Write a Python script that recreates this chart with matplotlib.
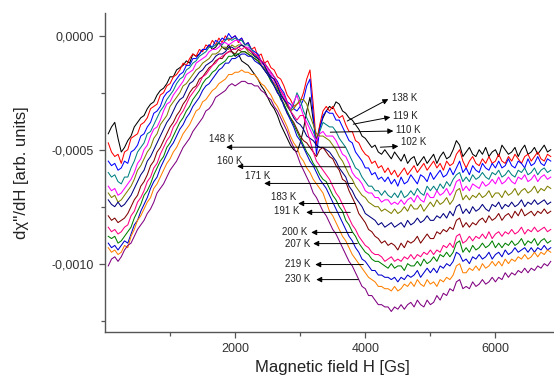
import numpy as np
import matplotlib
matplotlib.use("Agg")
import matplotlib.pyplot as plt
from matplotlib.ticker import FuncFormatter, FixedLocator

plt.rcParams["font.family"] = ["Liberation Sans", "DejaVu Sans"]

# ── Data: derivative signal in units of 1e-5, read every 50 Gs ───────────
field = np.arange(50, 6900, 50)  # Gs, 137 samples

temps = ["102 K", "110 K", "119 K", "138 K", "148 K", "160 K", "171 K",
         "183 K", "191 K", "200 K", "207 K", "219 K", "230 K"]

colors = ["#000000", "#ff0000", "#0000ff", "#008080", "#ff00ff", "#808000",
          "#000080", "#800000", "#ff0080", "#008000", "#0000cd", "#ff8000",
          "#800080"]

s102 = [-43, -40, -38, -45, -51, -49, -46, -44, -40, -38,
        -36, -35, -32, -30, -29, -26, -24, -23, -21, -18,
        -18, -15, -14, -13, -11, -12, -8, -9, -8, -6,
        -6, -4, -6, -5, -3, -5, -6, -4, -7, -9,
        -8, -11, -12, -13, -15, -17, -19, -22, -24, -27,
        -30, -32, -35, -39, -42, -45, -48, -50, -51, -47,
        -41, -33, -27, -37, -46, -40, -36, -33, -31, -32,
        -29, -30, -33, -34, -36, -37, -39, -41, -44, -45,
        -47, -49, -48, -51, -52, -50, -52, -54, -51, -53,
        -55, -52, -56, -54, -53, -57, -55, -53, -56, -54,
        -52, -56, -53, -51, -54, -53, -50, -46, -48, -53,
        -51, -49, -52, -53, -50, -52, -49, -53, -51, -50,
        -53, -48, -50, -52, -51, -49, -53, -50, -48, -52,
        -51, -49, -52, -50, -48, -51, -50]
s110 = [-47, -51, -53, -52, -56, -51, -50, -45, -44, -43,
        -39, -38, -36, -32, -31, -30, -26, -25, -22, -21,
        -18, -17, -15, -12, -13, -10, -8, -9, -6, -7,
        -4, -5, -2, -4, -1, -3, 0, -2, -1, 0,
        -3, -1, -4, -3, -6, -5, -9, -8, -12, -11,
        -14, -15, -18, -19, -22, -26, -28, -31, -30, -29,
        -25, -19, -15, -30, -48, -39, -33, -31, -33, -31,
        -34, -36, -35, -39, -42, -42, -46, -47, -50, -52,
        -53, -56, -55, -58, -57, -60, -58, -61, -59, -62,
        -60, -58, -61, -59, -57, -60, -58, -56, -59, -57,
        -55, -58, -56, -59, -55, -57, -56, -52, -50, -55,
        -58, -55, -53, -56, -57, -54, -56, -53, -56, -55,
        -52, -55, -56, -53, -55, -52, -54, -56, -53, -52,
        -55, -53, -51, -54, -55, -52, -53]
s119 = [-55, -57, -56, -59, -58, -55, -56, -51, -50, -48,
        -44, -43, -40, -38, -34, -33, -31, -27, -25, -24,
        -21, -19, -17, -16, -13, -13, -10, -10, -8, -6,
        -6, -4, -5, -2, -3, -1, -2, 1, -1, 0,
        -2, -1, -4, -3, -6, -7, -8, -11, -12, -14,
        -16, -18, -20, -23, -25, -29, -30, -32, -33, -31,
        -28, -22, -19, -35, -52, -41, -35, -33, -34, -34,
        -37, -37, -40, -43, -46, -47, -51, -53, -55, -58,
        -58, -61, -60, -63, -62, -64, -62, -65, -63, -66,
        -62, -65, -64, -61, -63, -65, -61, -62, -64, -60,
        -63, -61, -59, -62, -61, -58, -61, -58, -55, -60,
        -58, -61, -57, -59, -60, -56, -58, -59, -56, -58,
        -55, -58, -57, -54, -57, -58, -55, -56, -58, -54,
        -57, -56, -53, -56, -57, -54, -55]
s138 = [-60, -62, -61, -64, -65, -62, -62, -58, -55, -51,
        -49, -47, -43, -42, -39, -36, -33, -31, -28, -26,
        -24, -21, -19, -18, -15, -14, -12, -11, -9, -8,
        -7, -5, -5, -4, -3, -4, -2, -1, -2, -1,
        -2, -2, -4, -4, -6, -8, -10, -11, -13, -16,
        -18, -19, -22, -25, -28, -31, -33, -30, -25, -28,
        -33, -36, -39, -42, -46, -42, -38, -39, -40, -40,
        -42, -45, -47, -49, -52, -55, -58, -59, -62, -64,
        -66, -66, -68, -68, -70, -68, -70, -71, -69, -71,
        -68, -71, -70, -68, -70, -67, -69, -70, -66, -68,
        -66, -68, -65, -67, -64, -66, -63, -61, -60, -64,
        -62, -64, -61, -63, -62, -60, -62, -63, -60, -61,
        -59, -62, -61, -59, -61, -62, -59, -60, -58, -61,
        -60, -58, -61, -59, -58, -60, -59]
s148 = [-66, -68, -67, -70, -69, -67, -65, -63, -60, -56,
        -54, -50, -48, -44, -41, -40, -37, -33, -30, -29,
        -26, -24, -22, -20, -17, -16, -15, -12, -11, -10,
        -9, -7, -6, -6, -5, -3, -3, -4, -3, -2,
        -2, -4, -5, -5, -7, -8, -9, -12, -13, -15,
        -17, -20, -23, -24, -27, -30, -32, -29, -26, -31,
        -35, -38, -41, -44, -46, -43, -42, -44, -44, -44,
        -46, -49, -52, -53, -56, -60, -62, -63, -65, -68,
        -69, -69, -71, -71, -73, -72, -72, -74, -73, -74,
        -72, -74, -72, -71, -73, -70, -72, -73, -69, -71,
        -71, -68, -70, -69, -67, -70, -68, -64, -63, -68,
        -66, -68, -65, -66, -67, -64, -66, -65, -63, -65,
        -62, -65, -64, -62, -64, -65, -62, -63, -61, -64,
        -63, -61, -64, -62, -61, -63, -62]
s160 = [-69, -71, -70, -73, -72, -70, -68, -66, -63, -59,
        -57, -54, -51, -49, -45, -43, -39, -37, -35, -31,
        -29, -27, -25, -22, -21, -19, -17, -15, -14, -12,
        -11, -10, -8, -8, -7, -5, -5, -6, -4, -5,
        -4, -4, -5, -7, -8, -9, -10, -13, -14, -16,
        -19, -21, -23, -26, -28, -31, -33, -32, -30, -28,
        -28, -30, -35, -39, -43, -44, -44, -45, -46, -48,
        -50, -53, -55, -58, -61, -63, -66, -68, -70, -71,
        -73, -74, -75, -75, -77, -76, -77, -78, -76, -78,
        -77, -75, -77, -74, -76, -76, -74, -77, -75, -73,
        -75, -72, -74, -73, -71, -74, -72, -68, -67, -72,
        -70, -72, -70, -71, -69, -71, -70, -68, -71, -69,
        -69, -71, -68, -70, -69, -67, -70, -68, -67, -69,
        -68, -66, -69, -67, -68, -66, -67]
s171 = [-72, -74, -75, -73, -75, -74, -72, -70, -67, -64,
        -61, -59, -55, -53, -50, -47, -44, -41, -38, -36,
        -33, -30, -28, -27, -24, -21, -20, -18, -16, -15,
        -13, -12, -11, -9, -8, -8, -7, -5, -5, -6,
        -5, -4, -5, -6, -7, -9, -10, -11, -13, -16,
        -18, -19, -22, -26, -28, -30, -33, -36, -38, -39,
        -41, -44, -45, -46, -48, -49, -49, -50, -51, -53,
        -55, -58, -60, -62, -66, -68, -71, -73, -75, -78,
        -79, -80, -81, -83, -82, -84, -83, -82, -84, -83,
        -82, -84, -81, -83, -82, -80, -82, -81, -79, -81,
        -81, -79, -80, -78, -80, -77, -79, -75, -74, -78,
        -76, -78, -75, -77, -76, -74, -76, -77, -74, -75,
        -73, -76, -74, -75, -73, -75, -74, -72, -75, -73,
        -74, -72, -74, -73, -72, -74, -73]
s183 = [-79, -81, -80, -82, -81, -80, -78, -75, -72, -70,
        -66, -64, -61, -57, -55, -51, -49, -46, -43, -40,
        -38, -35, -33, -30, -28, -25, -23, -22, -19, -18,
        -16, -14, -13, -11, -10, -10, -8, -7, -7, -8,
        -6, -7, -7, -8, -9, -10, -11, -13, -15, -17,
        -19, -22, -25, -27, -30, -34, -36, -38, -41, -44,
        -46, -47, -49, -51, -53, -50, -49, -51, -53, -54,
        -57, -59, -63, -64, -68, -71, -74, -78, -80, -82,
        -85, -86, -88, -89, -91, -90, -92, -91, -92, -94,
        -91, -93, -90, -91, -90, -88, -91, -89, -87, -89,
        -89, -86, -87, -85, -86, -84, -85, -81, -80, -84,
        -82, -84, -82, -83, -81, -80, -82, -79, -81, -80,
        -78, -81, -79, -78, -80, -77, -79, -76, -79, -78,
        -77, -79, -77, -78, -76, -78, -77]
s191 = [-84, -86, -85, -87, -86, -84, -83, -79, -77, -73,
        -71, -68, -64, -62, -58, -56, -52, -49, -46, -44,
        -40, -38, -35, -33, -30, -27, -25, -23, -21, -18,
        -17, -15, -13, -12, -10, -9, -8, -7, -6, -6,
        -5, -6, -5, -6, -7, -8, -9, -11, -12, -14,
        -16, -18, -21, -24, -26, -29, -33, -35, -37, -35,
        -35, -41, -46, -51, -55, -57, -59, -61, -63, -66,
        -69, -71, -74, -77, -80, -83, -85, -88, -90, -92,
        -93, -95, -96, -96, -97, -99, -98, -97, -99, -98,
        -99, -97, -98, -96, -98, -96, -97, -95, -96, -94,
        -96, -94, -95, -92, -93, -91, -93, -88, -87, -91,
        -90, -88, -90, -88, -89, -87, -89, -86, -89, -87,
        -86, -88, -86, -87, -85, -87, -86, -84, -87, -85,
        -86, -84, -86, -85, -84, -86, -85]
s200 = [-88, -89, -88, -91, -90, -88, -86, -84, -80, -77,
        -74, -70, -68, -65, -61, -58, -55, -53, -49, -47,
        -44, -41, -38, -36, -33, -31, -28, -26, -24, -21,
        -19, -18, -16, -15, -13, -12, -11, -9, -9, -8,
        -8, -7, -7, -8, -9, -10, -11, -13, -15, -17,
        -20, -22, -24, -28, -30, -33, -36, -39, -42, -45,
        -48, -51, -53, -56, -58, -61, -63, -64, -67, -70,
        -72, -75, -77, -81, -83, -86, -88, -91, -93, -95,
        -96, -98, -99, -99, -100, -101, -102, -100, -102, -101,
        -101, -103, -100, -101, -101, -99, -101, -98, -100, -99,
        -97, -99, -96, -97, -95, -97, -95, -91, -90, -95,
        -93, -95, -92, -94, -93, -91, -93, -92, -90, -93,
        -91, -93, -91, -92, -90, -92, -91, -89, -92, -90,
        -91, -89, -92, -90, -89, -91, -90]
s207 = [-91, -93, -92, -94, -92, -90, -91, -87, -83, -81,
        -77, -74, -71, -67, -64, -62, -58, -55, -52, -49,
        -47, -44, -41, -39, -36, -34, -31, -29, -27, -24,
        -22, -21, -19, -17, -15, -14, -12, -12, -10, -10,
        -9, -8, -8, -9, -9, -11, -12, -13, -15, -17,
        -19, -22, -25, -27, -31, -34, -37, -40, -44, -46,
        -49, -52, -55, -57, -60, -63, -65, -67, -70, -73,
        -76, -79, -82, -85, -88, -90, -93, -95, -98, -99,
        -101, -103, -103, -105, -105, -106, -106, -107, -106, -108,
        -106, -107, -105, -106, -105, -103, -106, -104, -102, -104,
        -102, -104, -101, -102, -100, -101, -99, -95, -96, -99,
        -98, -100, -97, -98, -96, -98, -97, -95, -98, -96,
        -95, -97, -94, -96, -95, -93, -95, -94, -93, -95,
        -93, -95, -93, -94, -92, -94, -93]
s219 = [-93, -95, -94, -96, -95, -92, -93, -88, -85, -81,
        -79, -76, -73, -71, -67, -65, -62, -59, -56, -54,
        -51, -49, -46, -43, -41, -39, -36, -33, -32, -29,
        -28, -26, -24, -23, -21, -20, -19, -17, -17, -16,
        -16, -15, -16, -16, -17, -17, -19, -21, -22, -24,
        -26, -29, -31, -34, -37, -40, -44, -47, -49, -53,
        -55, -58, -60, -63, -65, -67, -69, -73, -77, -79,
        -82, -85, -88, -90, -93, -96, -98, -100, -102, -104,
        -106, -107, -108, -110, -110, -111, -111, -112, -110, -112,
        -111, -109, -110, -108, -110, -107, -109, -110, -107, -109,
        -108, -110, -107, -108, -106, -107, -105, -101, -100, -104,
        -104, -102, -103, -101, -103, -100, -102, -101, -99, -101,
        -99, -101, -98, -100, -98, -99, -97, -98, -96, -98,
        -97, -95, -97, -95, -96, -94, -95]
s230 = [-101, -98, -97, -99, -97, -94, -92, -91, -88, -85,
        -83, -81, -78, -76, -73, -69, -67, -65, -62, -59,
        -57, -55, -52, -49, -47, -45, -42, -40, -38, -36,
        -33, -32, -30, -27, -26, -25, -24, -22, -21, -22,
        -21, -20, -20, -21, -21, -22, -22, -24, -25, -27,
        -28, -31, -33, -36, -39, -42, -46, -49, -52, -56,
        -59, -62, -65, -69, -71, -74, -77, -79, -82, -85,
        -87, -90, -93, -96, -99, -101, -104, -107, -110, -111,
        -114, -114, -116, -118, -118, -119, -119, -121, -119, -120,
        -118, -120, -118, -117, -119, -116, -118, -119, -116, -118,
        -117, -114, -116, -113, -114, -111, -112, -108, -107, -111,
        -110, -111, -108, -110, -109, -107, -109, -108, -106, -108,
        -106, -107, -104, -106, -104, -105, -103, -104, -102, -104,
        -102, -103, -101, -102, -100, -101, -99]

series = [s102, s110, s119, s138, s148, s160, s171, s183, s191, s200, s207, s219, s230]

# ── Annotation layout (data coords): label, text pos, arrow tail, arrow head ─
right_notes = [
    ("138 K", (4415, -2.73e-4), (3723, -3.74e-4), (4354, -2.78e-4)),
    ("119 K", (4431, -3.52e-4), (3815, -3.88e-4), (4385, -3.57e-4)),
    ("110 K", (4477, -4.14e-4), (3462, -4.23e-4), (4431, -4.18e-4)),
    ("102 K", (4554, -4.67e-4), (4231, -4.89e-4), (4508, -4.85e-4)),
]
left_notes = [
    ("148 K", (1985, -4.54e-4), (3692, -4.89e-4), (1862, -4.89e-4)),
    ("160 K", (2108, -5.51e-4), (3769, -5.75e-4), (2031, -5.73e-4)),
    ("171 K", (2538, -6.17e-4), (3815, -6.48e-4), (2446, -6.48e-4)),
    ("183 K", (2938, -7.09e-4), (3846, -7.36e-4), (2969, -7.36e-4)),
    ("191 K", (2985, -7.71e-4), (3769, -7.75e-4), (3092, -7.75e-4)),
    ("200 K", (3108, -8.59e-4), (3800, -8.63e-4), (3169, -8.63e-4)),
    ("207 K", (3154, -9.12e-4), (3877, -9.12e-4), (3200, -9.12e-4)),
    ("219 K", (3154, -1.000e-3), (3969, -1.004e-3), (3231, -1.004e-3)),
    ("230 K", (3154, -1.066e-3), (3892, -1.070e-3), (3246, -1.070e-3)),
]

# ── Plot ─────────────────────────────────────────────────────────────────
fig = plt.figure(figsize=(5.54, 3.78), dpi=100)
ax = fig.add_axes([105 / 554, 46 / 378, 449 / 554, 319 / 378])

for vals, col in zip(series, colors):
    ax.plot(field, np.array(vals) * 1e-5, color=col, linewidth=0.75)

arrow_kw = dict(arrowstyle="-|>", color="black", lw=0.7, mutation_scale=8,
                shrinkA=0, shrinkB=0)
for label, txt, tail, head in right_notes:
    ax.annotate("", xy=head, xytext=tail, arrowprops=arrow_kw, zorder=5)
    ax.text(txt[0], txt[1], label, fontsize=7, color="#222222",
            ha="left", va="center", zorder=6)
for label, txt, tail, head in left_notes:
    ax.annotate("", xy=head, xytext=tail, arrowprops=arrow_kw, zorder=5)
    ax.text(txt[0], txt[1], label, fontsize=7, color="#222222",
            ha="right", va="center", zorder=6)

ax.set_xlim(0, 6900)
ax.set_ylim(-0.0013, 0.0001)

ax.xaxis.set_major_locator(FixedLocator([2000, 4000, 6000]))
ax.xaxis.set_minor_locator(FixedLocator([1000, 3000, 5000]))
ax.yaxis.set_major_locator(FixedLocator([-0.0010, -0.0005, 0.0]))
ax.yaxis.set_minor_locator(FixedLocator([-0.00125, -0.00075, -0.00025]))
ax.yaxis.set_major_formatter(FuncFormatter(
    lambda v, p: ("%.4f" % (0.0 if abs(v) < 1e-12 else v)).replace(".", ",")))

for side in ("top", "right"):
    ax.spines[side].set_visible(False)
for side in ("left", "bottom"):
    ax.spines[side].set_color("#555555")
    ax.spines[side].set_linewidth(1.0)

ax.tick_params(which="major", direction="out", length=4.5, width=0.9,
               color="#555555", labelsize=9, labelcolor="#333333", pad=3.5)
ax.tick_params(which="minor", direction="out", length=3, width=0.9,
               color="#555555")

ax.set_xlabel("Magnetic field H [Gs]", fontsize=12, color="#222222")
ax.xaxis.label.set_va("baseline")
ax.xaxis.set_label_coords(0.506, -0.126)
ax.set_ylabel("dχ''/dH [arb. units]", fontsize=12, color="#222222")
ax.yaxis.set_label_coords(-0.169, 0.5)

fig.savefig("out.png", dpi=100)
